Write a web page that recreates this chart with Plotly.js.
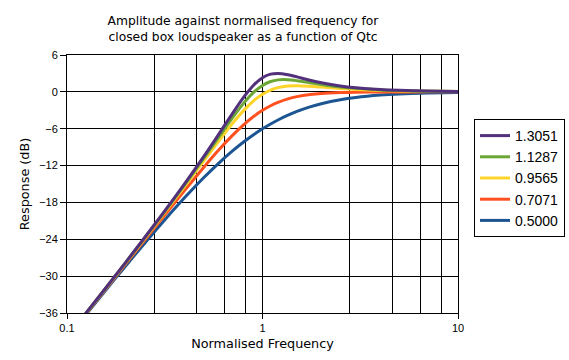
<!DOCTYPE html>
<html>
<head>
<meta charset="utf-8">
<script src="https://cdn.plot.ly/plotly-3.0.1.min.js"></script>
<style>
html,body{margin:0;padding:0;background:#fff;}
#chart{width:569px;height:360px;}
</style>
</head>
<body>
<div id="chart"></div>
<script>
// Normalised frequency (f / fc)
const freq = [0.1, 0.15, 0.2, 0.3, 0.4, 0.5, 0.6, 0.7, 0.8, 0.9, 1.0, 1.1, 1.2, 1.35, 1.5, 1.75, 2, 2.5, 3, 4, 5, 7, 10];

// Response (dB) for each Qtc
const q13051 = [-39.94, -32.82, -27.71, -20.36, -14.95, -10.55, -6.80, -3.58, -0.91, 1.08, 2.31, 2.88, 3.00, 2.79, 2.44, 1.90, 1.49, 0.97, 0.68, 0.38, 0.25, 0.13, 0.06];
const q11287 = [-39.95, -32.84, -27.75, -20.45, -15.12, -10.84, -7.28, -4.29, -1.88, -0.10, 1.05, 1.68, 1.95, 1.98, 1.82, 1.49, 1.20, 0.80, 0.57, 0.32, 0.21, 0.11, 0.05];
const q09565 = [-39.96, -32.87, -27.81, -20.58, -15.37, -11.26, -7.92, -5.20, -3.06, -1.47, -0.39, 0.30, 0.69, 0.95, 1.00, 0.91, 0.78, 0.55, 0.40, 0.24, 0.15, 0.08, 0.04];
const q07071 = [-40.00, -32.96, -27.97, -20.95, -16.03, -12.30, -9.40, -7.13, -5.37, -4.02, -3.01, -2.26, -1.71, -1.14, -0.78, -0.44, -0.26, -0.11, -0.05, -0.02, -0.01, 0.00, 0.00];
const q05000 = [-40.09, -33.15, -28.30, -21.66, -17.21, -13.98, -11.55, -9.66, -8.17, -6.98, -6.02, -5.23, -4.58, -3.80, -3.19, -2.45, -1.94, -1.29, -0.92, -0.53, -0.34, -0.18, -0.09];

const seriesNames = ["0.5000", "0.7071", "0.9565", "1.1287", "1.3051"];
const seriesValues = [q05000, q07071, q09565, q11287, q13051];
const seriesColors = ["#1C5592", "#FF5020", "#FFD42A", "#6CA635", "#52307C"];

// Axis ticks
const xTickVals = [0.1, 1, 10];
const xTickText = ["0.1", "1", "10"];
const xGridVals = [0.28, 0.46, 0.64, 0.82, 2.8, 4.6, 6.4, 8.2];
const yTickVals = [-36, -30, -24, -18, -12, -6, 0, 6];

const traces = seriesNames.map((name, i) => ({
  x: freq,
  y: seriesValues[i],
  name: name,
  type: "scatter",
  mode: "lines",
  line: {color: seriesColors[i], width: 3, shape: "spline", smoothing: 0.8}
}));

const tickFont = {family: "Liberation Sans, Arial, sans-serif", size: 11, color: "#000"};
const titleFontFamily = "DejaVu Sans, Verdana, sans-serif";

const layout = {
  width: 569,
  height: 360,
  paper_bgcolor: "#fff",
  plot_bgcolor: "#fff",
  margin: {l: 67, r: 111, t: 55, b: 47, pad: 0, autoexpand: false},
  title: {
    text: "Amplitude against normalised frequency for<br>closed box loudspeaker as a function of Qtc",
    font: {family: titleFontFamily, size: 12.3, color: "#000"},
    xref: "container", x: 243 / 569, xanchor: "center",
    yref: "container", y: 1 - 25 / 360, yanchor: "top"
  },
  xaxis: {
    type: "log",
    range: [-1, 1],
    tickmode: "array",
    tickvals: xTickVals,
    ticktext: xTickText,
    ticks: "outside",
    ticklen: 5,
    tickcolor: "#000",
    tickfont: tickFont,
    showgrid: true,
    gridcolor: "#000",
    gridwidth: 1,
    minor: {tickmode: "array", tickvals: xGridVals, showgrid: true, gridcolor: "#000", gridwidth: 1, ticks: ""},
    showline: true,
    linecolor: "#000",
    linewidth: 1,
    mirror: true,
    zeroline: false,
    title: {text: "Normalised Frequency", font: {family: titleFontFamily, size: 12.8, color: "#000"}, standoff: 5}
  },
  yaxis: {
    range: [-36, 6],
    tickmode: "array",
    tickvals: yTickVals,
    ticks: "outside",
    ticklen: 6,
    tickcolor: "#000",
    tickfont: tickFont,
    showgrid: true,
    gridcolor: "#000",
    gridwidth: 1,
    showline: true,
    linecolor: "#000",
    linewidth: 1,
    mirror: true,
    zeroline: false,
    title: {text: "Response (dB)", font: {family: titleFontFamily, size: 12.8, color: "#000"}, standoff: 6}
  },
  showlegend: true,
  legend: {
    x: (474 - 67) / 391, xanchor: "left",
    y: (313 - 119) / 258, yanchor: "top",
    traceorder: "reversed",
    bgcolor: "#fff",
    bordercolor: "#000",
    borderwidth: 1,
    font: {family: "Liberation Sans, Arial, sans-serif", size: 14, color: "#000"},
    itemwidth: 30
  }
};

Plotly.newPlot("chart", traces, layout, {displayModeBar: false, staticPlot: true});
</script>
</body>
</html>
